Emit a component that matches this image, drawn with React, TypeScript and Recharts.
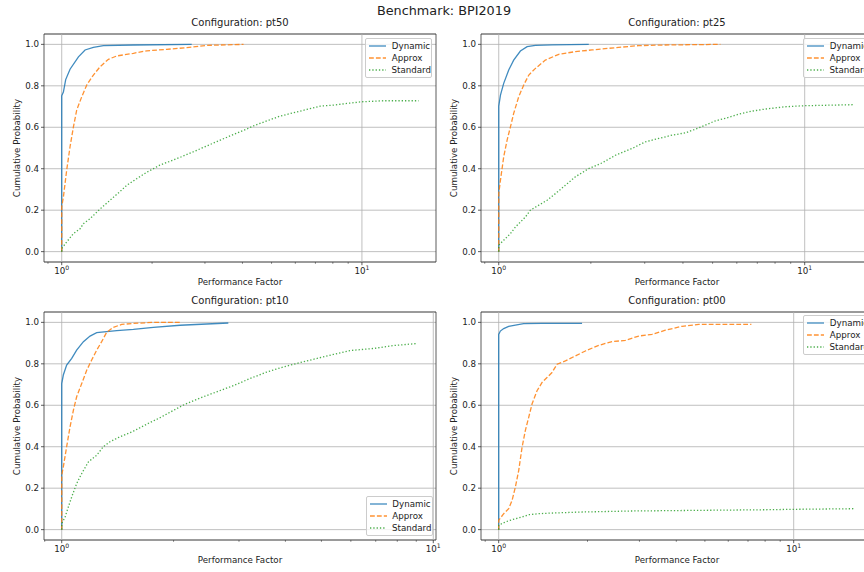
import { LineChart, Line, XAxis, YAxis, CartesianGrid, ReferenceLine, ReferenceArea, Legend } from 'recharts'

type Pt = [number, number]

const SERIES_NAMES = ['Dynamic', 'Approx', 'Standard']
const Y_TICKS = [0, 0.2, 0.4, 0.6, 0.8, 1.0]
const X_TICKS = [0.9, 1, 2, 3, 4, 5, 6, 7, 8, 9, 10]
const X_MAJOR = [1, 10]

// pt50
const pt50Dynamic: Pt[] = [[1, 0], [1, 0.752], [1.013, 0.77], [1.031, 0.83], [1.066, 0.88], [1.137, 0.94], [1.196, 0.973], [1.275, 0.985], [1.377, 0.994], [1.733, 0.997], [2.71, 1.0]]
const pt50Approx: Pt[] = [[1, 0], [1, 0.216], [1.013, 0.264], [1.039, 0.393], [1.066, 0.506], [1.094, 0.602], [1.122, 0.683], [1.166, 0.747], [1.212, 0.804], [1.275, 0.852], [1.342, 0.892], [1.431, 0.928], [1.525, 0.944], [1.733, 0.957], [1.92, 0.969], [2.239, 0.976], [2.61, 0.984], [3.044, 0.995], [4.033, 1.0]]
const pt50Standard: Pt[] = [[1, 0], [1, 0.015], [1.039, 0.047], [1.094, 0.087], [1.151, 0.11], [1.181, 0.135], [1.243, 0.159], [1.342, 0.206], [1.449, 0.248], [1.581, 0.296], [1.647, 0.32], [1.778, 0.352], [1.916, 0.382], [2.121, 0.417], [2.48, 0.455], [2.747, 0.482], [3.044, 0.51], [3.372, 0.538], [3.734, 0.565], [4.137, 0.592], [4.355, 0.607], [4.825, 0.631], [5.343, 0.654], [5.918, 0.67], [6.556, 0.686], [7.262, 0.702], [8.044, 0.707], [8.913, 0.715], [10, 0.723], [11.81, 0.728], [15.45, 0.728]]

// pt25
const pt25Dynamic: Pt[] = [[1, 0], [1, 0.702], [1.013, 0.755], [1.038, 0.812], [1.078, 0.876], [1.119, 0.924], [1.177, 0.968], [1.238, 0.989], [1.318, 0.995], [1.494, 0.998], [1.969, 1.0]]
const pt25Approx: Pt[] = [[1, 0], [1, 0.28], [1.013, 0.345], [1.038, 0.457], [1.065, 0.538], [1.092, 0.602], [1.119, 0.667], [1.162, 0.747], [1.207, 0.804], [1.254, 0.852], [1.318, 0.884], [1.42, 0.924], [1.571, 0.952], [1.78, 0.965], [2.018, 0.973], [2.406, 0.984], [2.868, 0.994], [3.505, 0.997], [5.302, 1.0]]
const pt25Standard: Pt[] = [[1, 0], [1, 0.031], [1.038, 0.055], [1.092, 0.087], [1.134, 0.119], [1.192, 0.151], [1.222, 0.167], [1.269, 0.2], [1.351, 0.224], [1.439, 0.248], [1.532, 0.28], [1.651, 0.32], [1.78, 0.361], [1.969, 0.401], [2.176, 0.428], [2.406, 0.465], [2.728, 0.498], [3.016, 0.53], [3.334, 0.546], [3.686, 0.562], [4.074, 0.573], [4.504, 0.597], [5.105, 0.631], [5.504, 0.643], [6.085, 0.663], [6.728, 0.678], [7.437, 0.688], [8.646, 0.699], [10, 0.704], [14.46, 0.709]]

// pt10
const pt10Dynamic: Pt[] = [[1, 0], [1, 0.705], [1.01, 0.746], [1.031, 0.794], [1.064, 0.826], [1.097, 0.866], [1.144, 0.907], [1.192, 0.934], [1.242, 0.95], [1.321, 0.955], [1.406, 0.96], [1.559, 0.966], [1.764, 0.976], [2.082, 0.986], [2.455, 0.992], [2.808, 0.997]]
const pt10Approx: Pt[] = [[1, 0], [1, 0.262], [1.01, 0.303], [1.031, 0.4], [1.053, 0.496], [1.075, 0.576], [1.097, 0.641], [1.132, 0.705], [1.168, 0.77], [1.204, 0.818], [1.242, 0.866], [1.281, 0.907], [1.321, 0.952], [1.377, 0.976], [1.45, 0.99], [1.559, 0.995], [1.764, 1.0], [2.103, 1.0]]
const pt10Standard: Pt[] = [[1, 0], [1, 0.029], [1.021, 0.061], [1.042, 0.11], [1.064, 0.158], [1.097, 0.222], [1.132, 0.271], [1.18, 0.327], [1.242, 0.359], [1.294, 0.4], [1.349, 0.424], [1.435, 0.448], [1.559, 0.475], [1.729, 0.517], [1.839, 0.54], [1.997, 0.575], [2.125, 0.601], [2.356, 0.635], [2.613, 0.665], [2.9, 0.695], [3.212, 0.729], [3.561, 0.76], [3.948, 0.785], [4.564, 0.814], [5.382, 0.845], [5.969, 0.864], [6.897, 0.874], [7.806, 0.888], [9.056, 0.898]]

// pt00
const pt00Dynamic: Pt[] = [[1, 0], [1, 0.942], [1.013, 0.958], [1.04, 0.97], [1.081, 0.981], [1.139, 0.987], [1.215, 0.994], [1.403, 0.995], [1.917, 0.995]]
const pt00Approx: Pt[] = [[1, 0], [1, 0.045], [1.04, 0.077], [1.081, 0.101], [1.11, 0.141], [1.139, 0.205], [1.169, 0.285], [1.2, 0.397], [1.231, 0.478], [1.264, 0.542], [1.297, 0.606], [1.349, 0.67], [1.403, 0.71], [1.458, 0.734], [1.516, 0.758], [1.577, 0.798], [1.683, 0.814], [1.819, 0.838], [1.967, 0.862], [2.183, 0.889], [2.422, 0.907], [2.688, 0.913], [2.983, 0.934], [3.31, 0.942], [3.673, 0.962], [4.183, 0.981], [4.764, 0.99], [5.426, 0.99], [7.187, 0.99]]
const pt00Standard: Pt[] = [[1, 0], [1, 0.021], [1.053, 0.037], [1.11, 0.048], [1.2, 0.061], [1.264, 0.072], [1.366, 0.077], [1.516, 0.08], [1.917, 0.085], [2.831, 0.09], [4.764, 0.093], [8.017, 0.096], [10, 0.098], [16.18, 0.101]]

const STYLES = [
  { color: '#1f77b4', dash: undefined },
  { color: '#ff7f0e', dash: '4.8 2.1' },
  { color: '#2ca02c', dash: '1.3 2' },
]

const FONT = '"DejaVu Sans", sans-serif'
const TEXT = '#222'
const SPINE = '#333'
const GRID = '#b0b0b0'
const PLOT_W = 392
const PLOT_H = 228
const AXIS_W = 44
const AXIS_H = 30
const M_TOP = 2
const M_RIGHT = 10

const panels = [
  { title: 'Configuration: pt50', left: 0, plotTop: 34, domain: [0.873, 17.65], lines: [pt50Dynamic, pt50Approx, pt50Standard], legend: { left: 365, top: 6 } },
  { title: 'Configuration: pt25', left: 437, plotTop: 34, domain: [0.875, 16.72], lines: [pt25Dynamic, pt25Approx, pt25Standard], legend: { left: 366, top: 6 } },
  { title: 'Configuration: pt10', left: 0, plotTop: 312, domain: [0.896, 10.17], lines: [pt10Dynamic, pt10Approx, pt10Standard], legend: { left: 365.5, top: 186 } },
  { title: 'Configuration: pt00', left: 437, plotTop: 312, domain: [0.871, 18.57], lines: [pt00Dynamic, pt00Approx, pt00Standard], legend: { left: 366, top: 4.5 } },
]

function LogTick(props: any) {
  const { x, y, payload } = props
  const v = payload.value
  const major = X_MAJOR.includes(v)
  return (
    <g>
      <line x1={x} x2={x} y1={y} y2={y + (major ? 3.2 : 1.8)} stroke={SPINE} strokeWidth={major ? 0.8 : 0.6} />
      {major && (
        <text x={x} y={y + 12.3} textAnchor="middle" fontSize={8.7} fill={TEXT}>
          10<tspan dy={-4} fontSize={6.1}>{Math.round(Math.log10(v))}</tspan>
        </text>
      )}
    </g>
  )
}

function LegendBox() {
  return (
    <div style={{
      background: 'rgba(255,255,255,0.8)', border: '1px solid #ccc', borderRadius: 2,
      width: 67, height: 40, boxSizing: 'border-box', padding: '1px 0 0 3.3px', fontFamily: FONT,
    }}>
      {SERIES_NAMES.map((name, i) => (
        <div key={name} style={{ display: 'flex', alignItems: 'center', height: 12 }}>
          <svg width={17} height={4}>
            <line x1={0} x2={17} y1={2} y2={2} stroke={STYLES[i].color} strokeOpacity={0.85}
              strokeWidth={1.3} strokeDasharray={STYLES[i].dash} />
          </svg>
          <span style={{ marginLeft: 5.5, fontSize: 8.7, color: TEXT, whiteSpace: 'nowrap' }}>{name}</span>
        </div>
      ))}
    </div>
  )
}

function Panel({ p }: { p: typeof panels[number] }) {
  const [lo, hi] = p.domain
  return (
    <>
      <div style={{
        position: 'absolute', left: p.left + AXIS_W, top: p.plotTop - 17.2, width: PLOT_W,
        textAlign: 'center', fontSize: 10, lineHeight: '12px', color: TEXT, whiteSpace: 'nowrap',
      }}>{p.title}</div>
      <div style={{ position: 'absolute', left: p.left, top: p.plotTop - M_TOP }}>
        <LineChart width={AXIS_W + PLOT_W + M_RIGHT} height={M_TOP + PLOT_H + AXIS_H}
          margin={{ top: M_TOP, right: M_RIGHT, left: 0, bottom: 0 }}>
          <CartesianGrid vertical={false} stroke={GRID} strokeWidth={0.8} />
          {X_MAJOR.map(v => (
            <ReferenceLine key={v} x={v} stroke={GRID} strokeWidth={0.8} />
          ))}
          <XAxis dataKey="x" type="number" scale="log" domain={[lo, hi]} allowDataOverflow
            ticks={X_TICKS.filter(t => t >= lo && t <= hi)} interval={0} height={AXIS_H}
            axisLine={false} tickLine={false} tickSize={0} tickMargin={0} tick={<LogTick />}
            label={{ value: 'Performance Factor', position: 'center', dy: 5, fontSize: 8.7, fill: TEXT }} />
          <YAxis type="number" domain={[-0.05, 1.05]} allowDataOverflow ticks={Y_TICKS} interval={0}
            width={AXIS_W} axisLine={false} tickSize={3} tickMargin={2}
            tickLine={{ stroke: SPINE, strokeWidth: 0.8 }} tick={{ fontSize: 8.7, fill: TEXT }}
            tickFormatter={(v: number) => v.toFixed(1)}
            label={{ value: 'Cumulative Probability', angle: -90, position: 'center', dx: -5.5, fontSize: 8.7, fill: TEXT }} />
          {p.lines.map((pts, i) => (
            <Line key={SERIES_NAMES[i]} name={SERIES_NAMES[i]} data={pts.map(([x, y]) => ({ x, y }))}
              dataKey="y" type="linear" dot={false} activeDot={false} stroke={STYLES[i].color}
              strokeOpacity={0.85} strokeWidth={1.3} strokeDasharray={STYLES[i].dash}
              isAnimationActive={false} />
          ))}
          <ReferenceArea x1={lo} x2={hi} y1={-0.05} y2={1.05} fill="none" stroke={SPINE}
            strokeWidth={0.8} ifOverflow="visible" />
          <Legend layout="vertical" align="center" verticalAlign="middle"
            wrapperStyle={{ left: p.legend.left, top: p.legend.top, width: 'auto' }}
            content={() => <LegendBox />} />
        </LineChart>
      </div>
    </>
  )
}

export default function App() {
  return (
    <div style={{
      position: 'fixed', left: 0, top: 0, width: 864, height: 572, overflow: 'hidden',
      background: '#fff', fontFamily: FONT,
    }}>
      <div style={{
        position: 'absolute', left: 344, top: 3.1, width: 200, textAlign: 'center',
        fontSize: 12.8, lineHeight: '15px', color: TEXT, whiteSpace: 'nowrap',
      }}>Benchmark: BPI2019</div>
      {panels.map(p => <Panel key={p.title} p={p} />)}
    </div>
  )
}
